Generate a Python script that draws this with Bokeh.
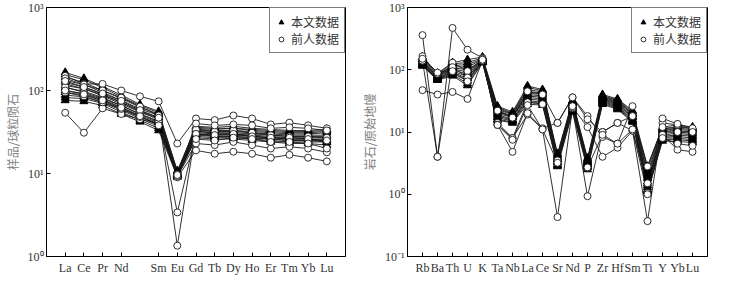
from bokeh.plotting import figure
from bokeh.layouts import row
from bokeh.models import FixedTicker, Legend, LegendItem, Range1d
from bokeh.embed import file_html
from bokeh.resources import INLINE

# ---------------- data ----------------
# Chondrite-normalised REE (Pm slot between Nd and Sm is plotted but not labelled)
ree_elements = ["La", "Ce", "Pr", "Nd", "Pm", "Sm", "Eu", "Gd", "Tb", "Dy", "Ho", "Er", "Tm", "Yb", "Lu"]
ree_tick_labels = ["La", "Ce", "Pr", "Nd", "Sm", "Eu", "Gd", "Tb", "Dy", "Ho", "Er", "Tm", "Yb", "Lu"]

ree_this_study = [
    [165, 140, 112, 88, 68, 56, 10.5, 37, 36, 37, 35, 34, 33, 33, 34],
    [155, 135, 108, 84, 66, 54, 10.8, 36, 35, 35, 34, 33, 32, 32, 33],
    [145, 125, 100, 80, 63, 52, 10.2, 35, 34, 35, 33, 32, 31, 31, 32],
    [132, 118, 95, 76, 60, 50, 9.8, 34, 33, 33, 32, 31, 30, 30, 31],
    [125, 110, 90, 72, 57, 47, 10.0, 33, 32, 32, 31, 30, 29, 29, 29],
    [115, 105, 86, 69, 55, 45, 9.6, 32, 31, 31, 30, 29, 28, 28, 28],
    [108, 98, 82, 66, 52, 43, 9.9, 31, 30, 30, 29, 28, 27, 27, 27],
    [100, 92, 78, 63, 50, 41, 9.4, 30, 29, 29, 28, 27, 26, 26, 26],
    [95, 88, 75, 60, 48, 39, 9.7, 29, 28, 28, 27, 26, 25, 25, 25],
    [88, 84, 72, 58, 46, 37, 9.2, 28, 27, 27, 26, 25, 24, 24, 24],
    [82, 80, 70, 55, 44, 35, 9.5, 30, 28, 28, 27, 26, 25, 25, 24],
    [76, 74, 66, 52, 42, 33, 9.1, 27, 26, 26, 25, 24, 23, 23, 22],
]
ree_previous = [
    [54, 31, 61, 52, 45, 40, 9.5, 33, 30, 30, 28, 27, 26, 26, 25],
    [150, 120, 120, 100, 85, 74, 23, 46, 44, 50, 46, 39, 41, 38, 35],
    [140, 118, 100, 82, 64, 50, 1.35, 34, 32, 33, 31, 29, 28, 28, 27],
    [120, 105, 88, 72, 56, 46, 3.4, 30, 29, 30, 28, 27, 27, 26, 25],
    [95, 85, 72, 60, 48, 40, 9.0, 19, 17.3, 18.3, 17.3, 15.5, 16.8, 15.5, 14],
    [110, 95, 80, 66, 52, 42, 9.3, 23, 22, 24, 22, 20, 21, 20, 18],
    [130, 110, 92, 75, 58, 47, 9.8, 26, 25, 27, 26, 24, 24, 23, 20],
    [100, 90, 76, 62, 49, 38, 9.6, 40, 38, 39, 38, 35, 36, 35, 33],
]

# Primitive-mantle-normalised trace elements
spider_elements = ["Rb", "Ba", "Th", "U", "K", "Ta", "Nb", "La", "Ce", "Sr",
                   "Nd", "P", "Zr", "Hf", "Sm", "Ti", "Y", "Yb", "Lu"]
spider_this_study = [
    [160, 88, 130, 145, 160, 26, 21, 55, 48, 4.5, 32, 3.8, 40, 34, 22, 2.8, 12, 13, 12],
    [150, 85, 125, 130, 155, 25, 20, 52, 46, 4.3, 31, 3.6, 38, 33, 21, 2.5, 11.5, 12, 11.5],
    [145, 82, 118, 120, 150, 24, 19.5, 48, 44, 4.1, 30, 3.5, 37, 32, 20, 2.2, 11, 11.5, 11],
    [140, 80, 112, 110, 148, 23, 19, 45, 42, 3.9, 29, 3.4, 36, 31, 19.5, 2.0, 10.5, 11, 10.5],
    [135, 78, 108, 100, 145, 22, 18, 42, 40, 3.7, 28, 3.3, 35, 30, 19, 1.8, 10, 10.5, 10],
    [130, 76, 104, 92, 142, 21, 17.5, 40, 38, 3.6, 27, 3.2, 34, 29, 18, 1.6, 9.5, 10, 9.5],
    [128, 74, 100, 85, 140, 20, 17, 38, 36, 3.4, 26, 3.1, 33, 28, 17.5, 1.5, 9, 9.5, 9],
    [125, 72, 96, 78, 138, 19, 16, 36, 34, 3.3, 25, 3.0, 32, 27, 17, 1.4, 8.5, 9, 8.5],
    [122, 71, 92, 72, 136, 18, 15.5, 34, 32, 3.2, 24, 2.9, 31, 26, 16, 1.3, 8.2, 8.5, 8],
    [120, 70, 88, 66, 134, 17, 15, 32, 30, 3.0, 23, 2.8, 30, 25, 15.5, 1.2, 8, 8, 7.5],
    [118, 69, 84, 60, 132, 16, 14.5, 30, 29, 2.9, 22, 2.7, 29, 24, 15, 1.15, 7.6, 7.5, 7.2],
    [115, 68, 80, 56, 130, 15.5, 14, 28, 27, 2.8, 21, 2.5, 28, 23, 14.5, 1.1, 7.2, 7, 6.8],
]
spider_previous = [
    [360, 4.0, 130, 95, 145, 14, 8.0, 19, 11, 0.43, 24, 0.93, 10, 14, 10.5, 0.37, 14, 13, 11],
    [140, 4.0, 470, 210, 155, 13, 4.8, 20, 11.5, 14, 36, 18, 8.3, 6.5, 26, 1.05, 16.5, 13.5, 11.5],
    [47, 40, 44, 34, 140, 13, 8, 30, 28, 3.5, 25, 12, 4.0, 5.6, 10.5, 1.5, 9, 5.2, 4.8],
    [165, 86, 110, 75, 150, 22, 17, 45, 40, 14, 36, 16, 10, 14, 18, 2.8, 12, 10, 10],
    [150, 90, 95, 65, 145, 13, 7.5, 27, 11, 3.2, 26, 2.7, 9, 6.5, 11, 1.0, 8, 6.5, 6],
]

legend_labels = ["本文数据", "前人数据"]

SUP = {0.1: "10⁻¹", 1: "10⁰", 10: "10¹", 100: "10²", 1000: "10³"}

LINE_COL = "#1a1a1a"
SERIF = "Liberation Serif"
CJK = "Noto Sans CJK SC"


def make_panel(elements, tick_labels, this_study, previous, ymin, ylabel,
               width, height, border_left, border_right):
    n = len(elements)
    xs = list(range(1, n + 1))
    p = figure(width=width, height=height, y_axis_type="log",
               x_range=Range1d(0, n + 1), y_range=Range1d(ymin, 1000),
               output_backend="svg", toolbar_location=None,
               min_border_left=border_left, min_border_right=border_right,
               min_border_top=7, min_border_bottom=18)
    p.grid.visible = False
    p.outline_line_color = "black"
    p.outline_line_width = 1
    p.background_fill_color = "white"
    p.border_fill_color = "white"

    # x ticks only at labelled elements
    tick_pos = [xs[i] for i, e in enumerate(elements) if e in tick_labels]
    p.xaxis.ticker = FixedTicker(ticks=tick_pos)
    p.xaxis.major_label_overrides = {x: elements[x - 1] for x in tick_pos}
    p.xaxis.minor_tick_line_color = None
    p.xaxis.major_tick_in = 4
    p.xaxis.major_tick_out = 0
    p.xaxis.major_label_standoff = 4

    yt = [v for v in [0.1, 1, 10, 100, 1000] if v >= ymin]
    p.yaxis.ticker = FixedTicker(ticks=yt)
    p.yaxis.major_label_overrides = {v: SUP[v] for v in yt}
    p.yaxis.minor_tick_line_color = None
    p.yaxis.major_tick_in = 4
    p.yaxis.major_tick_out = 0
    p.yaxis.major_label_standoff = 3
    p.yaxis.axis_label = ylabel
    p.yaxis.axis_label_standoff = 4
    p.yaxis.axis_label_text_font = CJK
    p.yaxis.axis_label_text_font_size = "12px"
    p.yaxis.axis_label_text_font_style = "normal"
    p.yaxis.axis_label_text_color = "#808080"

    for ax in (p.xaxis, p.yaxis):
        ax.axis_line_color = "black"
        ax.major_tick_line_color = "black"
        ax.major_label_text_font = SERIF
        ax.major_label_text_font_size = "12px"
        ax.major_label_text_color = "#333333"

    tri_r = None
    cir_r = None
    for ser in this_study:
        p.line(xs, ser, line_color=LINE_COL, line_width=0.9)
    for ser in previous:
        p.line(xs, ser, line_color=LINE_COL, line_width=0.9)
    for ser in this_study:
        tri_r = p.scatter(xs, ser, marker="triangle", size=8,
                          fill_color="black", line_color="black")
    for ser in previous:
        cir_r = p.scatter(xs, ser, marker="circle", size=7,
                          fill_color="white", line_color=LINE_COL, line_width=0.9)

    leg = Legend(items=[LegendItem(label=legend_labels[0], renderers=[tri_r]),
                        LegendItem(label=legend_labels[1], renderers=[cir_r])],
                 location="top_right")
    leg.margin = 0
    leg.padding = 5
    leg.spacing = 0
    leg.glyph_width = 12
    leg.glyph_height = 14
    leg.label_height = 14
    leg.label_standoff = 4
    leg.label_text_font = CJK
    leg.label_text_font_size = "12px"
    leg.label_text_color = "#333333"
    leg.border_line_color = "black"
    leg.border_line_width = 1
    leg.background_fill_alpha = 1
    p.add_layout(leg)
    return p


p1 = make_panel(ree_elements, ree_tick_labels, ree_this_study, ree_previous,
                1, "样品/球粒陨石", 357, 277, 36, 12)
p2 = make_panel(spider_elements, spider_elements, spider_this_study, spider_previous,
                0.1, "岩石/原始地幔", 356, 277, 41, 6)

layout = row(p1, p2)
open("out.html", "w").write(file_html(layout, INLINE))
